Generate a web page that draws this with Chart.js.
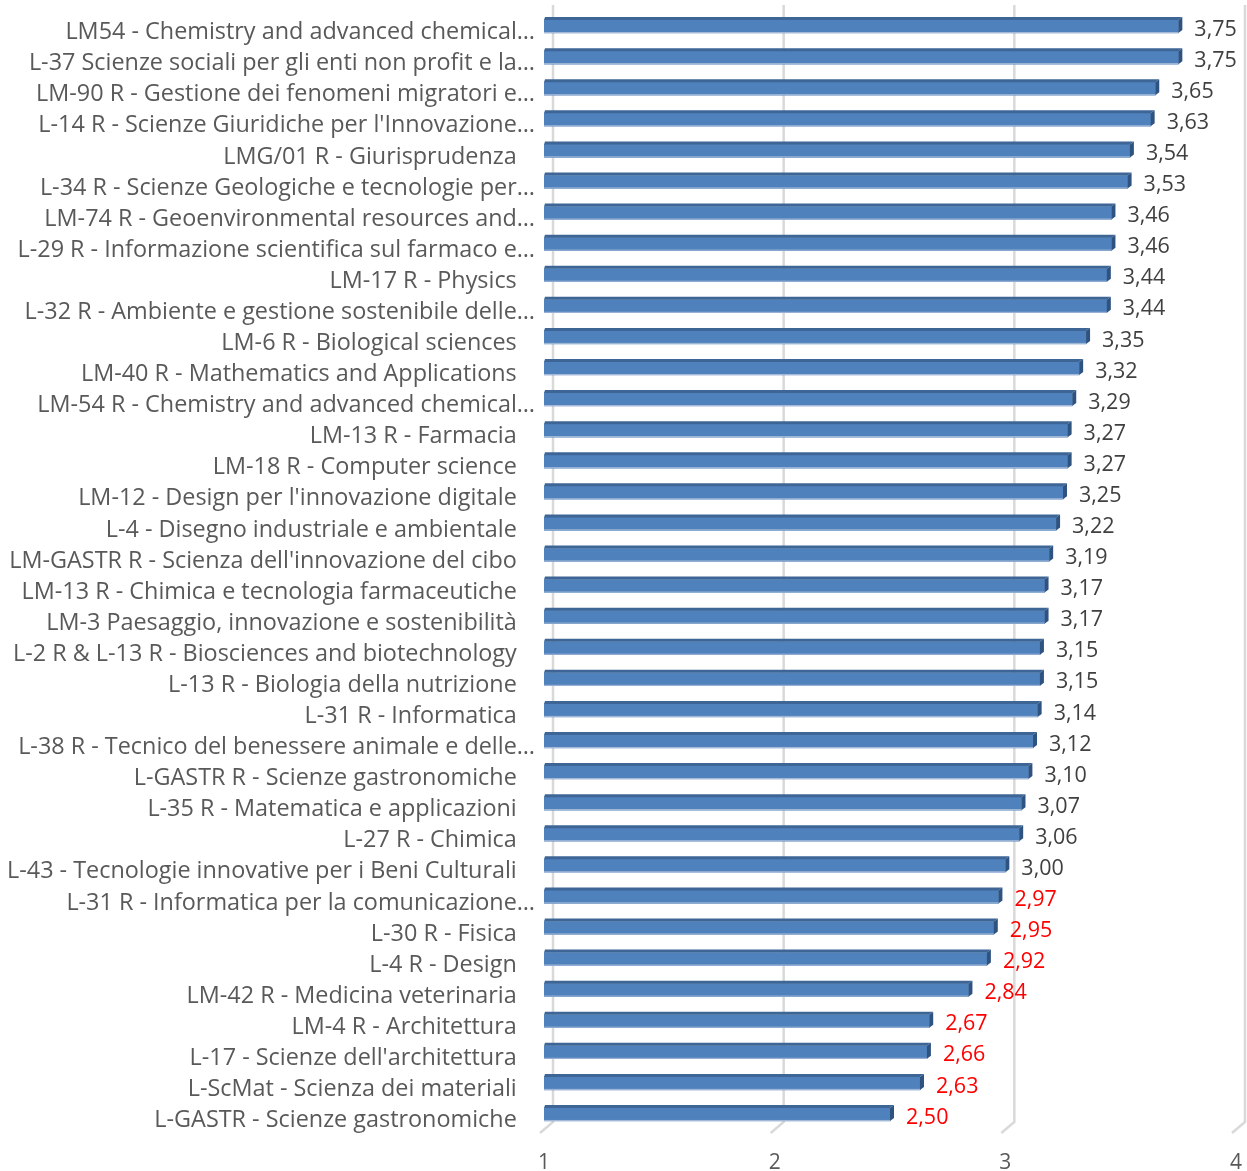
<!DOCTYPE html>
<html>
<head>
<meta charset="utf-8">
<script src="https://cdn.jsdelivr.net/npm/chart.js@4.4.1/dist/chart.umd.min.js"></script>
<style>
  html, body { margin: 0; padding: 0; background: #fff; }
  #wrap { width: 1247px; height: 1171px; }
</style>
</head>
<body>
<div id="wrap"><canvas id="chart"></canvas></div>
<script>
// course names as shown on the axis (Excel already cut the long ones)
const courses = [
  "LM54 - Chemistry and advanced chemical…",
  "L-37 Scienze sociali per gli enti non profit e la…",
  "LM-90 R - Gestione dei fenomeni migratori e…",
  "L-14 R - Scienze Giuridiche per l'Innovazione…",
  "LMG/01 R - Giurisprudenza",
  "L-34 R - Scienze Geologiche e tecnologie per…",
  "LM-74 R - Geoenvironmental resources and…",
  "L-29 R - Informazione scientifica sul farmaco e…",
  "LM-17 R - Physics",
  "L-32 R - Ambiente e gestione sostenibile delle…",
  "LM-6 R - Biological sciences",
  "LM-40 R - Mathematics and Applications",
  "LM-54 R - Chemistry and advanced chemical…",
  "LM-13 R - Farmacia",
  "LM-18 R - Computer science",
  "LM-12 - Design per l'innovazione digitale",
  "L-4 - Disegno industriale e ambientale",
  "LM-GASTR R - Scienza dell'innovazione del cibo",
  "LM-13 R - Chimica e tecnologia farmaceutiche",
  "LM-3 Paesaggio, innovazione e sostenibilità",
  "L-2 R & L-13 R - Biosciences and biotechnology",
  "L-13 R - Biologia della nutrizione",
  "L-31 R - Informatica",
  "L-38 R - Tecnico del benessere animale e delle…",
  "L-GASTR R - Scienze gastronomiche",
  "L-35 R - Matematica e applicazioni",
  "L-27 R - Chimica",
  "L-43 - Tecnologie innovative per i Beni Culturali",
  "L-31 R - Informatica per la comunicazione…",
  "L-30 R - Fisica",
  "L-4 R - Design",
  "LM-42 R - Medicina veterinaria",
  "LM-4 R - Architettura",
  "L-17 - Scienze dell'architettura",
  "L-ScMat - Scienza dei materiali",
  "L-GASTR - Scienze gastronomiche"
];
const scores = [
  3.75, 3.75, 3.65, 3.63, 3.54, 3.53, 3.46, 3.46, 3.44, 3.44,
  3.35, 3.32, 3.29, 3.27, 3.27, 3.25, 3.22, 3.19, 3.17, 3.17,
  3.15, 3.15, 3.14, 3.12, 3.10, 3.07, 3.06, 3.00, 2.97, 2.95,
  2.92, 2.84, 2.67, 2.66, 2.63, 2.50
];
const xTicks = [1, 2, 3, 4];
const threshold = 3;

const FONT = '"Open Sans", sans-serif';

// fake 3d: back wall gridlines, top + side faces of the bars, value labels
const fake3d = {
  id: 'fake3d',
  beforeDatasetsDraw(chart) {
    const ctx = chart.ctx, xs = chart.scales.x, area = chart.chartArea;
    ctx.save();
    ctx.strokeStyle = '#d9d9d9';
    ctx.lineWidth = 2.5;
    xTicks.forEach(v => {
      const x = xs.getPixelForValue(v);
      ctx.beginPath();
      ctx.moveTo(x + 9, 5);
      ctx.lineTo(x + 9, area.bottom - 8);
      ctx.lineTo(x - 4, area.bottom + 3);
      ctx.stroke();
    });
    ctx.restore();
  },
  afterDatasetsDraw(chart) {
    const ctx = chart.ctx;
    const meta = chart.getDatasetMeta(0);
    const left = chart.chartArea.left;
    const dx = 4, dy = 3;
    ctx.save();
    meta.data.forEach((bar, i) => {
      const top = bar.y - bar.height / 2, bottom = bar.y + bar.height / 2;
      const base = Math.max(bar.base, left);
      // top face
      ctx.fillStyle = '#3d6696';
      ctx.beginPath();
      ctx.moveTo(base, top);
      ctx.lineTo(base + 1, top - dy);
      ctx.lineTo(bar.x + dx, top - dy);
      ctx.lineTo(bar.x, top);
      ctx.closePath();
      ctx.fill();
      // side face
      ctx.fillStyle = '#2e5380';
      ctx.beginPath();
      ctx.moveTo(bar.x, top);
      ctx.lineTo(bar.x + dx, top - dy);
      ctx.lineTo(bar.x + dx, bottom - dy);
      ctx.lineTo(bar.x, bottom);
      ctx.closePath();
      ctx.fill();
      // light bottom edge
      ctx.fillStyle = '#a9bcd8';
      ctx.fillRect(base, bottom - 1, bar.x - base, 1);

      const v = scores[i];
      ctx.font = '21.5px ' + FONT;
      ctx.fillStyle = v < threshold ? '#ff0000' : '#404040';
      ctx.textAlign = 'left';
      ctx.textBaseline = 'middle';
      ctx.fillText(v.toFixed(2).replace('.', ','), bar.x + 16, bar.y + 3);
    });
    ctx.restore();
  }
};

new Chart(document.getElementById('chart'), {
  type: 'bar',
  data: {
    labels: courses,
    datasets: [{
      data: scores,
      backgroundColor: '#4f81bd',
      borderWidth: 0,
      barThickness: 13
    }]
  },
  options: {
    indexAxis: 'y',
    responsive: true,
    maintainAspectRatio: false,
    animation: false,
    layout: { padding: { top: 11, right: 11, left: 0, bottom: 0 } },
    plugins: {
      legend: { display: false },
      tooltip: { enabled: false }
    },
    scales: {
      x: {
        type: 'linear',
        min: 1,
        max: 4,
        grid: { display: false, drawTicks: false },
        border: { display: false },
        ticks: {
          stepSize: 1,
          color: '#595959',
          font: { family: FONT, size: 21 },
          padding: 20
        },
        afterFit: s => {
          s.height = 41;
          s.paddingLeft = 0;
          s.paddingRight = 11;
        }
      },
      y: {
        grid: { display: false, drawTicks: false },
        border: { display: false },
        ticks: {
          autoSkip: false,
          color: '#595959',
          font: { family: FONT, size: 23.4 },
          padding: 9,
          labelOffset: 6,
          callback: function (val) {
            const s = this.getLabelForValue(val);
            return s.endsWith('…') ? s : s + '   ';
          }
        },
        afterFit: s => {
          s.width = 544;
          s.paddingTop = 0;
          s.paddingBottom = 0;
        }
      }
    }
  },
  plugins: [fake3d]
});
</script>
</body>
</html>
